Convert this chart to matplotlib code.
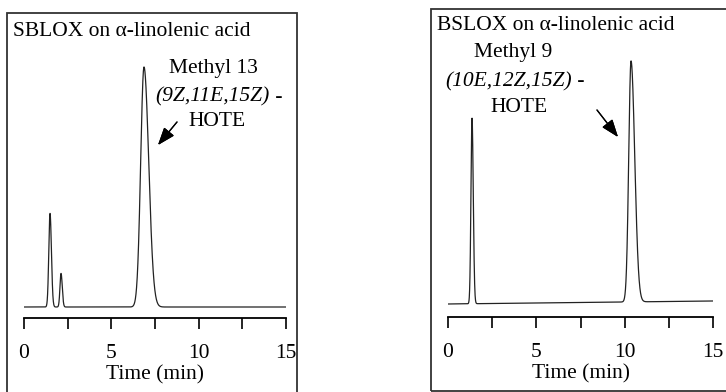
import numpy as np
import matplotlib
matplotlib.use("Agg")
import matplotlib.pyplot as plt
from matplotlib.patches import Rectangle
from matplotlib.ticker import MultipleLocator

plt.rcParams['font.family'] = ['Liberation Serif', 'DejaVu Serif']

W, H = 726, 392

# peak tables (retention time in min, height, left/right width)
sb_rt = [1.49, 2.12, 6.87]
sb_height = [39, 14, 100]
sb_sig_left = [0.07, 0.06, 0.19]
sb_sig_right = [0.08, 0.07, 0.27]
sb_drift = [0.0, 0.0]

bs_rt = [1.36, 10.36]
bs_height = [77, 100]
bs_sig_left = [0.06, 0.13]
bs_sig_right = [0.07, 0.21]
bs_drift = [0.0, 1.25]

major_ticks = [0, 5, 10, 15]


def px(x, y):
    return x / W, 1 - y / H


def trace(t, rt, height, sl, sr, drift):
    y = drift[0] + (drift[1] - drift[0]) * t / 15
    for r, h, a, b in zip(rt, height, sl, sr):
        s = np.where(t < r, a, b)
        y = y + h * np.exp(-0.5 * ((t - r) / s) ** 2)
    return y


fig = plt.figure(figsize=(W / 100, H / 100), dpi=100)


def panel(x0, x1, y_axis, y_base, y_top, scale, peaks):
    l, b = px(x0, y_axis)
    ax = fig.add_axes([l, b, (x1 - x0) / W, (y_axis - y_top) / H])
    t = np.linspace(0, 15, 4000)
    ax.plot(t, trace(t, *peaks), color='#222222', lw=0.9)
    ax.set_xlim(0, 15)
    ax.set_ylim(-(y_axis - y_base) / scale, (y_base - y_top) / scale)
    for s in ['left', 'top', 'right']:
        ax.spines[s].set_visible(False)
    ax.spines['bottom'].set_linewidth(1.3)
    ax.set_yticks([])
    ax.set_xticks(major_ticks)
    ax.xaxis.set_minor_locator(MultipleLocator(2.5))
    ax.tick_params(axis='x', which='both', direction='out', length=8, width=1.2,
                   labelsize=15.5, pad=11)
    ax.set_xlabel('Time (min)', fontsize=15.5, labelpad=1)
    ax.patch.set_visible(False)
    return ax


ax1 = panel(24, 286, 318, 307, 40, 2.4,
            (sb_rt, sb_height, sb_sig_left, sb_sig_right, sb_drift))
ax2 = panel(448, 713, 317, 304, 40, 2.41,
            (bs_rt, bs_height, bs_sig_left, bs_sig_right, bs_drift))

# panel frames
for (x0, y0, x1, y1) in [(7, 13, 297, 420), (431, 9, 760, 391)]:
    l, b = px(x0, y1)
    fig.add_artist(Rectangle((l, b), (x1 - x0) / W, (y1 - y0) / H,
                             transform=fig.transFigure, fill=False,
                             ec='#333333', lw=1.3, clip_on=False))

fs = 15.5
arrow = dict(arrowstyle='-|>,head_length=0.6,head_width=0.22', color='black', lw=0.9,
             mutation_scale=18, shrinkA=0, shrinkB=0)

fig.text(*px(13, 31), 'SBLOX on α-linolenic acid', fontsize=fs, va='center')
fig.text(*px(213, 68), 'Methyl 13', fontsize=fs, ha='center', va='center')
fig.text(*px(270, 97), '(9Z,11E,15Z)', fontsize=fs, style='italic', ha='right', va='center')
fig.text(*px(270, 97), ' -', fontsize=fs, ha='left', va='center')
fig.text(*px(217, 122), 'HOTE', fontsize=fs, ha='center', va='center')
fig.add_artist(plt.annotate('', xy=px(158, 145), xytext=px(177, 122),
                            xycoords='figure fraction', textcoords='figure fraction',
                            arrowprops=arrow))

fig.text(*px(437, 26), 'BSLOX on α-linolenic acid', fontsize=fs, va='center')
fig.text(*px(513, 53), 'Methyl 9', fontsize=fs, ha='center', va='center')
fig.text(*px(572, 82), '(10E,12Z,15Z)', fontsize=fs, style='italic', ha='right', va='center')
fig.text(*px(572, 82), ' -', fontsize=fs, ha='left', va='center')
fig.text(*px(519, 108), 'HOTE', fontsize=fs, ha='center', va='center')
fig.add_artist(plt.annotate('', xy=px(618, 137), xytext=px(597, 110),
                            xycoords='figure fraction', textcoords='figure fraction',
                            arrowprops=arrow))

fig.savefig('out.png', dpi=100)
